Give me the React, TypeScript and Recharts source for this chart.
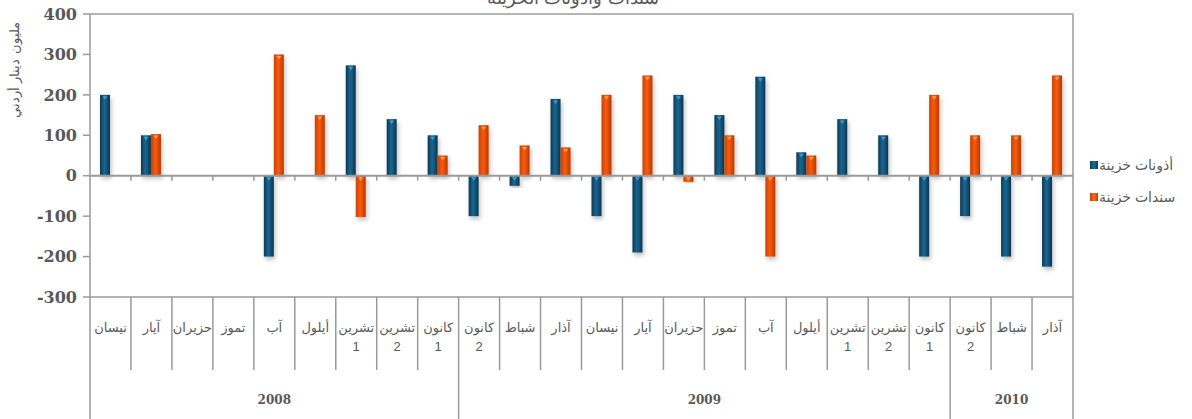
import { BarChart, Bar, XAxis, YAxis, ReferenceLine, Legend } from 'recharts';

// categories (April 2008 .. March 2010)
const MONTHS = [
  'نيسان', 'آيار', 'حزيران', 'تموز', 'آب', 'أيلول', 'تشرين 1', 'تشرين 2', 'كانون 1',
  'كانون 2', 'شباط', 'آذار', 'نيسان', 'آيار', 'حزيران', 'تموز', 'آب', 'أيلول', 'تشرين 1', 'تشرين 2', 'كانون 1',
  'كانون 2', 'شباط', 'آذار',
];
const YEARS = [
  '2008', '2008', '2008', '2008', '2008', '2008', '2008', '2008', '2008',
  '2009', '2009', '2009', '2009', '2009', '2009', '2009', '2009', '2009', '2009', '2009', '2009',
  '2010', '2010', '2010',
];
// أذونات خزينة
const BILLS = [200, 100, 0, 0, -200, 0, 273, 140, 100, -100, -25, 190, -100, -190, 200, 150, 245, 58, 140, 100, -200, -100, -200, -225];
// سندات خزينة
const BONDS = [0, 103, 0, 0, 300, 150, -102, 0, 50, 125, 75, 70, 200, 248, -15, 100, -200, 50, 0, 0, 200, 100, 100, 248];
const Y_TICKS = [-300, -200, -100, 0, 100, 200, 300, 400];

const TITLE = 'سندات وأذونات الخزينة';
const Y_LABEL = 'مليون دينار أردني';
const BILLS_NAME = 'أذونات خزينة';
const BONDS_NAME = 'سندات خزينة';

const data = MONTHS.map((m, i) => ({ idx: i, month: m, year: YEARS[i], bills: BILLS[i], bonds: BONDS[i] }));

// layout
const W = 1192;
const H = 419;
const PLOT_LEFT = 90;
const PLOT_RIGHT = 1073;
const PLOT_TOP = 14;
const PLOT_BOTTOM = 297;
const MONTH_AXIS_H = 73;
const YEAR_AXIS_H = 49;
const Y_AXIS_W = 60;
const BW = (PLOT_RIGHT - PLOT_LEFT) / MONTHS.length;
const ZERO_Y = PLOT_TOP + ((PLOT_BOTTOM - PLOT_TOP) * 400) / 700;

const GRID = '#9a9a9a';
const TEXT = '#595959';
const SANS = '"Liberation Sans", "DejaVu Sans", Arial, sans-serif';
const SERIF = '"DejaVu Serif", "Liberation Serif", serif';

const MonthTick = (props: any) => {
  const { x, payload } = props;
  const i = payload.index;
  const left = x - BW / 2;
  const parts = String(MONTHS[i]).split(' ');
  return (
    <g>
      <line x1={left} x2={left} y1={PLOT_BOTTOM} y2={PLOT_BOTTOM + MONTH_AXIS_H} stroke={GRID} strokeWidth={1.5} />
      {i === MONTHS.length - 1 && (
        <line x1={left + BW} x2={left + BW} y1={PLOT_BOTTOM} y2={PLOT_BOTTOM + MONTH_AXIS_H} stroke={GRID} strokeWidth={1.5} />
      )}
      {i > 0 && <line x1={left} x2={left} y1={ZERO_Y} y2={ZERO_Y + 5} stroke={GRID} strokeWidth={1.5} />}
      <text x={x} y={332} textAnchor="middle" fontFamily={SANS} fontSize={13} fill={TEXT}>
        {parts.map((p, k) => (
          <tspan key={k} x={x} dy={k === 0 ? 0 : 19}>{p}</tspan>
        ))}
      </text>
    </g>
  );
};

const YearTick = (props: any) => {
  const { x, payload } = props;
  const i = payload.index;
  const left = x - BW / 2;
  const y0 = PLOT_BOTTOM + MONTH_AXIS_H;
  const isStart = i === 0 || YEARS[i] !== YEARS[i - 1];
  let count = 0;
  if (isStart) {
    while (i + count < YEARS.length && YEARS[i + count] === YEARS[i]) count++;
  }
  return (
    <g>
      {isStart && <line x1={left} x2={left} y1={y0} y2={H} stroke={GRID} strokeWidth={1.5} />}
      {i === YEARS.length - 1 && <line x1={left + BW} x2={left + BW} y1={y0} y2={H} stroke={GRID} strokeWidth={1.5} />}
      {isStart && (
        <text x={left + (count * BW) / 2} y={404} textAnchor="middle" fontFamily={SERIF} fontWeight="bold" fontSize={12} fill={TEXT}>
          {YEARS[i]}
        </text>
      )}
    </g>
  );
};

const barShape = (key: 'bills' | 'bonds', grad: string, tip: string) => (props: any) => {
  const { x, y, width, height } = props;
  const v = props.payload?.[key];
  const h = Math.abs(height);
  if (!v || !h) return <g />;
  const top = Math.min(y, y + height);
  return (
    <g>
      <rect x={x} y={top} width={width} height={h} fill={`url(#${grad})`} filter="url(#barShadow)" />
      <path d={`M${x + width * 0.25},${top + 1.5} L${x + width * 0.75},${top + 1.5} L${x + width / 2},${top + 5} Z`} fill={tip} />
    </g>
  );
};

const LegendContent = () => (
  <div style={{ fontFamily: SANS, fontSize: 14, color: TEXT }}>
    {[
      { name: BILLS_NAME, grad: 'linear-gradient(90deg,#0b3a55,#1d6f99,#0b3a55)' },
      { name: BONDS_NAME, grad: 'linear-gradient(90deg,#c03f05,#ff6a1a,#c03f05)' },
    ].map((it) => (
      <div key={it.name} style={{ display: 'flex', alignItems: 'center', height: 32 }}>
        <span style={{ display: 'inline-block', width: 8, height: 8, background: it.grad, marginRight: 1 }} />
        <span style={{ direction: 'rtl' }}>{it.name}</span>
      </div>
    ))}
  </div>
);

export default function App() {
  return (
    <div style={{ position: 'absolute', left: 0, top: 0, width: W, height: H, overflow: 'hidden', background: '#fff' }}>
      <BarChart
        width={W}
        height={H}
        data={data}
        barSize={10}
        barGap={0}
        margin={{ top: PLOT_TOP - 1, right: W - PLOT_RIGHT - 1, bottom: 0, left: PLOT_LEFT - Y_AXIS_W }}
      >
        <defs>
          <linearGradient id="blueGrad" x1="0" y1="0" x2="1" y2="0">
            <stop offset="0%" stopColor="#0b3a55" />
            <stop offset="45%" stopColor="#1a6690" />
            <stop offset="100%" stopColor="#0a3650" />
          </linearGradient>
          <linearGradient id="orangeGrad" x1="0" y1="0" x2="1" y2="0">
            <stop offset="0%" stopColor="#c94204" />
            <stop offset="45%" stopColor="#f95a0a" />
            <stop offset="100%" stopColor="#b83a03" />
          </linearGradient>
          <filter id="barShadow" x="-50%" y="-10%" width="220%" height="130%">
            <feDropShadow dx="1.5" dy="3" stdDeviation="2" floodColor="#000" floodOpacity="0.25" />
          </filter>
        </defs>
        <XAxis
          dataKey="idx"
          interval={0}
          height={MONTH_AXIS_H}
          axisLine={{ stroke: GRID, strokeWidth: 1.5 }}
          tickLine={false}
          tick={<MonthTick />}
        />
        <XAxis
          xAxisId="year"
          dataKey="idx"
          interval={0}
          height={YEAR_AXIS_H}
          axisLine={false}
          tickLine={false}
          tick={<YearTick />}
        />
        <XAxis xAxisId="top" dataKey="idx" orientation="top" height={1} tick={false} tickLine={false} axisLine={{ stroke: GRID, strokeWidth: 1.5 }} />
        <YAxis
          domain={[-300, 400]}
          ticks={Y_TICKS}
          width={Y_AXIS_W}
          interval={0}
          axisLine={{ stroke: GRID, strokeWidth: 1.5 }}
          tickLine={{ stroke: GRID, strokeWidth: 1.5 }}
          tickSize={7}
          tickMargin={6}
          tick={{ fill: TEXT, fontFamily: SERIF, fontWeight: 'bold', fontSize: 16 }}
        />
        <YAxis yAxisId="right" orientation="right" width={1} tick={false} tickLine={false} axisLine={{ stroke: GRID, strokeWidth: 1.5 }} />
        <ReferenceLine y={0} stroke={GRID} strokeWidth={2} />
        <Bar dataKey="bills" name={BILLS_NAME} fill="#175d82" isAnimationActive={false} shape={barShape('bills', 'blueGrad', '#3f9ccc')} />
        <Bar dataKey="bonds" name={BONDS_NAME} fill="#f0560d" isAnimationActive={false} shape={barShape('bonds', 'orangeGrad', '#ff9a55')} />
        <Legend
          layout="horizontal"
          verticalAlign="middle"
          align="center"
          content={<LegendContent />}
          wrapperStyle={{ left: 1090, top: 149, width: 100 }}
        />
      </BarChart>
      <div
        style={{
          position: 'absolute', left: 0, width: 1146, top: -12, textAlign: 'center',
          fontFamily: SERIF, fontSize: 18, color: TEXT, direction: 'rtl', lineHeight: '20px',
        }}
      >
        {TITLE}
      </div>
      <div
        style={{
          position: 'absolute', left: 14, top: 70, width: 0, height: 0,
        }}
      >
        <div
          style={{
            position: 'absolute', transform: 'translate(-50%, -50%) rotate(-90deg)', whiteSpace: 'nowrap',
            fontFamily: SERIF, fontSize: 13, color: TEXT, direction: 'rtl',
          }}
        >
          {Y_LABEL}
        </div>
      </div>
    </div>
  );
}
